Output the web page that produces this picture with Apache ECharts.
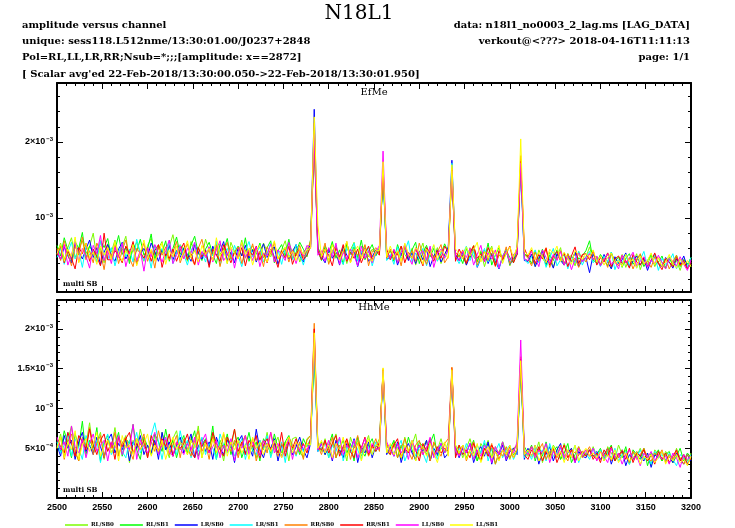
<!DOCTYPE html>
<html><head><meta charset="utf-8">
<script src="https://cdn.jsdelivr.net/npm/echarts@6/dist/echarts.min.js"></script>
<style>html,body{margin:0;padding:0;background:#fff}#c{width:735px;height:528px}</style>
</head><body><div id="c"></div><script>
// ---- data (amplitude in units of 1e-5) ----
const seriesNames = ['RL/SB0','RL/SB1','LR/SB0','LR/SB1','RR/SB0','RR/SB1','LL/SB0','LL/SB1'];
const seriesColors = ['#7cfc00','#00ff00','#0000ff','#00ffff','#ff8000','#ff0000','#ff00ff','#ffff00'];
const channels = []; for (let c = 2500; c <= 3200; c += 4) channels.push(c);

// EfMe panel
const efmeRL0 = [52,67,45,61,74, 48,59,70,53,63, 80,47,60,41,66, 55,71,50,62,76, 44,58,68,54,43, 64,73,51,60,69, 46,62,78,53,65,
 58,43,69,55,62, 48,72,57,45,66, 52,60,40,68,56, 50,71,47,59,63, 54,44,67,56,49, 62,46,58,70,48, 57,64,42,55,61,
 66,199,62,
 50,60,43,66,53,47,61,40,58,68,45,56,64,49,59,52,
 61,157,50,
 48,58,41,63,52,45,60,38,54,67,44,56,49,61,40,53,
 60,158,49,
 44,55,38,61,49,42,57,36,53,63,41,51,47,59,37,50,
 58,178,47,
 43,52,36,58,47,40,55,35,49,61,38,47,51,37,56,45,
 48,62,44,
 49,37,45,54,34,47,41,52,35,48,42,53,32,46,39,51,36,47,42,33,49,37,44,31,46,40,36];
const efmeRL1 = [64,50,74,58,44, 69,60,81,47,63, 54,42,70,61,73, 48,58,77,52,62, 40,67,56,72,51, 59,79,45,64,54, 70,43,60,75,52,
 61,47,64,76,54, 44,59,68,52,40, 66,57,73,46,55, 63,50,74,43,59, 53,67,48,61,70, 41,57,65,50,72, 46,55,68,59,49,
 72,200,57,
 44,63,54,69,47,58,39,66,52,62,48,71,45,56,65,50,
 59,160,49,
 57,43,65,50,62,46,58,68,40,54,64,49,60,44,53,66,
 55,160,46,
 52,40,60,47,64,43,55,46,67,38,51,61,44,57,48,41,
 62,170,53,
 49,40,56,45,59,37,51,44,58,47,39,53,42,55,46,50,
 57,70,44,
 41,52,45,37,55,42,49,35,47,53,39,46,51,36,44,52,38,42,50,34,46,40,51,36,45,39,48];
const efmeLR0 = [55,45,62,50,41, 66,56,46,59,71, 48,61,38,55,65, 51,43,59,68,46, 56,63,40,53,60, 49,67,56,43,59, 50,64,45,57,48,
 60,52,43,65,55, 46,58,38,63,51, 56,69,44,55,41, 61,50,64,47,58, 42,55,66,48,57, 62,39,53,60,46, 55,65,50,42,58,
 64,243,60,
 49,41,59,47,55,38,62,51,44,57,36,53,60,43,49,58,
 54,163,46,
 48,57,38,52,61,44,54,40,56,45,59,36,50,58,42,52,
 62,176,52,
 44,54,38,50,59,35,47,57,40,52,43,33,49,58,39,47,
 52,168,44,
 43,52,36,47,56,40,46,34,53,44,38,50,42,55,36,45,
 48,28,52,
 46,38,52,42,33,49,40,45,54,36,43,50,38,47,31,44,52,40,36,48,42,34,46,39,50,35,42];
const efmeLR1 = [48,60,39,55,68, 46,57,35,63,51, 59,42,70,53,45, 61,37,55,66,49, 59,42,72,54,44, 57,34,64,51,60, 45,71,40,55,64,
 52,38,57,67,46, 55,42,62,50,70, 38,53,60,45,64, 51,36,57,69,49, 54,62,42,53,67, 46,58,39,61,52, 45,65,54,38,56,
 62,215,55,
 46,58,41,54,64,48,39,60,52,67,43,56,50,62,37,54,
 59,160,44,
 52,39,62,47,56,70,42,54,46,60,37,53,64,43,56,48,
 57,172,49,
 40,52,63,44,56,36,48,60,42,54,46,34,50,59,40,52,
 56,165,46,
 40,49,58,41,53,35,47,60,37,45,52,33,49,41,56,38,
 49,56,41,
 48,36,50,42,55,32,45,41,52,37,49,34,45,56,36,43,51,31,47,39,43,53,33,46,40,35,48];
const efmeRR0 = [60,44,70,53,37, 63,51,75,45,57, 41,67,55,32,61, 49,65,40,57,71, 47,36,60,53,67, 43,57,34,64,51, 62,45,55,69,41,
 54,66,48,38,60, 72,50,58,44,64, 36,56,68,46,54, 62,40,58,50,66, 44,56,36,62,52, 68,46,54,60,42, 58,50,64,48,56,
 70,225,58,
 51,67,39,57,63,45,55,69,41,59,51,47,65,37,55,61,
 53,170,47,
 59,45,55,37,63,49,57,43,67,51,39,59,47,55,65,41,
 49,166,55,
 48,58,42,52,64,38,50,56,44,60,36,52,46,62,40,48,
 60,182,52,
 47,37,55,43,51,61,35,49,45,57,39,53,43,47,35,51,
 42,53,46,
 49,39,47,35,53,43,37,51,41,47,33,45,53,39,43,35,49,41,37,47,33,43,51,37,41,33,39];
const efmeRR1 = [51,63,41,57,47, 33,61,53,67,43, 59,49,37,80,45, 45,57,51,41,63, 53,69,39,55,47, 61,43,57,65,35, 53,47,59,43,57,
 67,45,53,39,61, 49,57,35,59,51, 43,65,53,41,55, 47,61,37,57,51, 63,45,53,41,59, 49,35,57,47,63, 39,53,59,45,51,
 62,205,57,
 45,59,51,37,61,49,65,43,55,47,59,41,53,63,45,57,
 51,165,59,
 45,57,51,63,41,55,47,59,49,37,61,53,43,57,47,63,
 55,163,43,
 59,49,40,55,63,47,53,43,61,51,37,57,45,53,63,41,
 52,175,60,
 49,58,40,52,46,60,38,50,56,44,54,36,50,62,40,52,
 53,45,57,
 38,48,42,54,36,46,50,40,44,34,52,42,38,48,36,44,54,40,32,46,42,36,48,38,44,33,42];
const efmeLL0 = [57,46,65,38,52, 69,42,60,50,34, 64,53,77,44,57, 40,62,48,67,36, 55,63,44,57,30, 60,49,65,53,42, 57,71,40,51,63,
 46,60,54,68,38, 56,48,62,42,58, 70,44,52,60,34, 56,66,48,58,44, 62,36,54,50,66, 42,58,52,44,68, 54,40,58,50,64,
 60,210,51,
 57,43,61,49,67,39,55,45,59,51,37,63,47,57,41,55,
 64,188,55,
 47,59,41,55,65,49,39,61,51,57,45,63,35,53,59,47,
 59,162,49,
 44,56,48,60,38,52,64,42,54,46,58,34,50,56,44,52,
 54,172,46,
 44,56,48,36,58,48,40,52,44,56,38,50,32,46,54,42,
 48,53,45,
 50,37,45,53,39,43,33,51,41,47,55,37,43,49,35,45,39,51,41,33,47,43,37,49,39,31,45];
const efmeLL1 = [53,65,43,59,49, 75,41,57,67,47, 55,39,63,51,61, 45,69,53,43,57, 49,65,37,55,71, 47,59,43,53,67, 39,57,49,63,45,
 56,70,48,58,42, 64,52,60,44,74, 50,58,40,62,54, 46,68,52,60,38, 56,64,50,42,58, 70,46,54,62,48, 56,44,60,52,58,
 60,233,91,
 49,59,43,65,53,45,57,69,41,55,63,47,59,51,43,57,
 57,174,49,
 63,49,57,43,67,53,47,61,55,39,59,51,65,45,57,53,
 47,170,59,
 54,46,62,50,58,68,42,56,48,60,52,64,40,54,62,48,
 62,204,56,
 51,61,45,55,49,41,59,53,63,43,55,47,39,57,51,45,
 53,48,58,
 42,50,38,48,54,40,44,36,52,42,46,34,50,40,44,54,38,48,36,42,52,40,34,46,38,44,36];

// HhMe panel
const hhmeRL0 = [52,68,40,60,78, 46,34,64,54,82, 44,58,70,36,62, 50,76,42,56,66, 32,60,48,74,54, 40,64,58,44,70, 52,38,62,72,48,
 56,42,64,52,78, 38,58,46,68,44, 54,34,62,50,74, 42,56,66,46,52, 38,60,48,70,40, 54,64,44,58,34, 62,64,46,38,62,
 66,164,58,
 46,62,38,56,68,44,52,34,64,50,58,40,54,66,42,52,
 62,143,46,
 42,58,50,36,64,46,54,68,40,52,60,34,56,48,62,44,
 58,141,46,
 54,38,50,62,44,34,56,48,60,38,52,42,58,46,36,50,
 54,150,44,
 40,52,44,58,32,48,42,54,46,36,56,44,50,34,52,42,
 48,40,52,
 40,48,34,52,44,36,54,42,48,30,46,40,50,36,44,28,48,42,34,46,40,32,50,36,42,34,44];
const hhmeRL1 = [62,46,72,56,38, 68,52,84,42,60, 50,76,34,58,66, 44,54,70,40,62, 56,80,48,36,64, 52,42,68,58,46, 74,50,60,38,56,
 66,44,58,72,40, 54,62,48,78,36, 60,50,68,42,56, 64,38,52,70,46, 58,34,62,54,44, 68,50,40,58,66, 48,56,42,62,52,
 62,170,52,
 58,42,54,68,38,50,60,44,56,34,64,48,40,54,62,46,
 54,146,52,
 50,60,38,54,44,64,48,34,58,52,42,56,68,40,50,46,
 48,142,54,
 44,54,38,48,60,34,46,56,40,50,30,44,58,38,48,42,
 48,149,52,
 44,54,34,50,40,58,38,46,52,36,44,56,32,42,50,40,
 42,48,40,
 42,50,36,46,54,34,44,38,52,30,48,42,36,50,28,44,40,48,34,42,46,32,40,50,34,44,38];
const hhmeLR0 = [54,40,66,50,60, 36,58,70,46,54, 42,64,52,38,60, 68,44,56,48,62, 34,58,50,66,42, 54,44,60,36,70, 48,58,40,54,64,
 44,56,68,38,52, 62,46,58,36,64, 50,42,60,54,32, 58,66,44,52,40, 74,48,38,56,50, 62,34,54,46,60, 42,52,64,48,38,
 56,185,46,
 56,42,52,34,60,48,38,56,46,62,32,52,44,58,38,54,
 48,146,42,
 52,40,58,32,48,56,44,36,54,46,60,34,50,42,56,38,
 44,146,52,
 38,50,44,56,32,46,52,40,58,30,48,42,54,34,46,50,
 42,158,36,
 50,40,54,30,46,42,52,34,48,56,36,44,50,32,46,40,
 38,48,40,
 46,36,42,50,30,44,38,48,28,42,36,46,40,34,44,26,42,38,46,34,40,32,44,36,30,42,34];
const hhmeLR1 = [58,44,54,70,40, 62,50,36,66,54, 48,60,32,56,68, 42,52,64,46,38, 60,54,70,44,56, 40,66,82,58,36, 62,48,54,42,72,
 50,60,38,54,46, 64,42,56,50,36, 68,54,44,58,40, 52,62,36,56,48, 42,60,50,66,38, 54,44,58,32,62, 50,40,56,46,54,
 54,180,46,
 50,58,38,54,46,62,34,52,44,60,48,36,56,50,42,58,
 52,145,44,
 54,42,50,60,34,46,56,40,52,44,32,58,48,36,54,44,
 50,145,40,
 50,42,56,46,36,54,44,60,34,50,46,56,38,48,54,36,
 46,155,38,
 46,36,52,42,48,34,56,40,44,50,36,46,42,54,32,44,
 44,36,50,
 40,48,36,44,38,50,34,42,46,30,44,38,48,36,40,30,46,38,42,34,44,36,28,42,38,32,42];
const hhmeRR0 = [50,64,36,58,68, 46,34,62,52,76, 42,56,66,38,60, 50,70,40,56,64, 48,36,62,54,68, 38,58,46,72,52, 60,42,54,66,38,
 62,50,40,60,72, 46,56,36,64,52, 42,68,54,46,60, 38,56,66,48,62, 34,52,60,44,70, 50,40,56,46,64, 54,42,58,36,60,
 66,207,54,
 42,58,48,64,38,54,46,60,36,52,66,44,56,40,50,62,
 46,150,56,
 44,56,38,50,62,46,36,54,60,42,52,34,58,48,40,56,
 62,152,50,
 42,54,34,48,58,42,36,50,44,56,30,46,40,52,38,48,
 54,165,46,
 42,52,40,48,56,36,46,50,38,54,42,34,48,44,52,38,
 44,52,40,
 36,46,40,50,34,44,38,48,42,32,46,36,42,50,38,34,44,40,48,32,42,36,46,38,30,42,36];
const hhmeRR1 = [62,52,44,70,56, 40,66,58,48,74, 54,42,60,68,46, 58,36,64,52,62, 70,44,56,48,60, 38,66,54,46,62, 52,68,40,58,50,
 56,68,46,38,62, 52,60,44,70,56, 48,40,64,54,74, 46,58,42,60,52, 66,38,54,62,48, 56,44,70,40,58, 50,62,46,56,44,
 62,200,52,
 48,60,44,56,66,40,52,62,46,38,58,50,64,42,54,46,
 58,148,48,
 42,54,62,38,50,44,58,48,34,56,46,62,40,52,44,50,
 46,150,38,
 54,42,48,38,56,44,34,50,40,54,46,36,48,42,52,38,
 48,162,42,
 36,48,42,52,34,46,40,50,32,44,54,38,48,34,42,46,
 40,48,36,
 44,32,48,40,52,34,42,46,36,50,32,44,40,48,34,42,30,46,36,44,32,40,48,34,42,30,38];
const hhmeLL0 = [64,48,58,40,78, 52,44,62,38,56, 68,46,54,60,34, 58,50,66,42,54, 48,80,36,60,52, 44,58,70,42,54, 64,46,40,58,50,
 42,56,48,64,36, 58,68,44,52,60, 38,54,46,62,34, 56,50,66,42,58, 48,40,60,52,70, 44,56,38,50,62, 36,58,46,54,48,
 58,190,48,
 56,46,60,36,52,64,42,54,48,60,38,50,62,44,56,48,
 50,147,58,
 48,40,56,44,52,36,60,46,54,42,50,64,38,48,56,44,
 52,147,46,
 40,52,44,56,36,48,40,54,46,32,52,42,58,36,48,44,
 58,186,48,
 42,52,38,48,44,56,32,46,40,52,38,48,42,32,50,40,
 48,40,50,
 34,46,40,32,50,38,44,30,42,48,36,40,28,44,38,46,34,42,36,40,30,44,38,26,42,36,40];
const hhmeLL1 = [50,64,38,58,48, 72,36,54,62,46, 56,70,40,52,60, 44,58,34,66,50, 54,42,62,48,56, 68,40,54,46,60, 36,52,64,48,58,
 52,42,60,50,66, 38,56,48,62,44, 54,70,40,58,48, 60,44,54,36,64, 50,58,42,56,46, 60,52,38,54,64, 44,58,50,42,56,
 54,195,50,
 60,44,54,38,56,48,64,40,52,44,58,34,50,62,42,54,
 52,151,44,
 56,42,50,38,54,46,60,34,48,52,40,56,44,32,50,58,
 40,149,54,
 44,54,36,48,40,56,32,44,52,38,46,34,48,42,54,38,
 50,160,42,
 48,40,54,34,44,50,36,52,40,46,32,48,38,54,34,44,
 50,40,44,
 38,46,34,42,36,48,32,40,44,34,38,46,30,40,36,42,32,38,46,30,40,34,42,32,36,28,40];

const efmeSeries = [efmeRL0, efmeRL1, efmeLR0, efmeLR1, efmeRR0, efmeRR1, efmeLL0, efmeLL1];
const hhmeSeries = [hhmeRL0, hhmeRL1, hhmeLR0, hhmeLR1, hhmeRR0, hhmeRR1, hhmeLL0, hhmeLL1];

// axis ticks / labels (units of 1e-5)
const efmeLabelValues = [100, 200];
const efmeLabelTexts = {100: '{b|10}{s|−3}', 200: '{b|2×10}{s|−3}'};
const efmeMinorTicks = [20,40,60,80,120,140,160,180,220,240,260];
const hhmeLabelValues = [50, 100, 150, 200];
const hhmeLabelTexts = {50: '{b|5×10}{s|−4}', 100: '{b|10}{s|−3}', 150: '{b|1.5×10}{s|−3}', 200: '{b|2×10}{s|−3}'};
const hhmeMinorTicks = [0,10,20,30,40,60,70,80,90,110,120,130,140,160,170,180,190,210,220,230];

// ---- chart ----
const chart = echarts.init(document.getElementById('c'), null, {renderer: 'canvas'});
const BLK = '#000';
const grids = [
  {left: 57, top: 83, width: 634, height: 209},
  {left: 57, top: 300, width: 634, height: 198}
];
const yRange = [[2.6, 277.6], [-12.5, 236.25]];

function xAxis(g, pos, showLabel) {
  return {type: 'value', gridIndex: g, position: pos, min: 2500, max: 3200, interval: 50,
    axisLine: {show: true, onZero: false, lineStyle: {color: BLK, width: 2}},
    axisTick: {show: true, inside: true, length: 6, lineStyle: {color: BLK, width: 1}},
    minorTick: {show: true, splitNumber: 5, length: 3, lineStyle: {color: BLK, width: 1}},
    axisLabel: {show: showLabel, margin: 5, fontSize: 9, fontWeight: 'bold', fontFamily: 'Liberation Sans', color: BLK,
      formatter: v => String(v)},
    splitLine: {show: false}, minorSplitLine: {show: false}};
}
const rich = {
  b: {fontSize: 9, fontWeight: 'bold', fontFamily: 'Liberation Sans', color: BLK, lineHeight: 12},
  s: {fontSize: 6, fontWeight: 'bold', fontFamily: 'Liberation Sans', color: BLK, verticalAlign: 'top', lineHeight: 8, padding: [0, 0, 0, 1]}
};
function yMajor(g, pos, labelVals, labelTexts, showLabel) {
  return {type: 'value', gridIndex: g, position: pos, min: yRange[g][0], max: yRange[g][1],
    axisLine: {show: true, onZero: false, lineStyle: {color: BLK, width: 2}},
    axisTick: {show: true, inside: true, length: 6, customValues: labelVals, lineStyle: {color: BLK, width: 1}},
    axisLabel: {show: showLabel, margin: 4, customValues: labelVals, formatter: v => labelTexts[v] || '', rich: rich},
    splitLine: {show: false}};
}
function yMinor(g, pos, tickVals) {
  return {type: 'value', gridIndex: g, position: pos, min: yRange[g][0], max: yRange[g][1],
    axisLine: {show: false},
    axisTick: {show: true, inside: true, length: 3, customValues: tickVals, lineStyle: {color: BLK, width: 1}},
    axisLabel: {show: false}, splitLine: {show: false}};
}

const series = [];
function addPanel(list, g) {
  list.forEach((arr, k) => {
    series.push({type: 'line', name: seriesNames[k], xAxisIndex: g * 2, yAxisIndex: g * 4,
      data: arr.map((v, i) => [channels[i], v]), showSymbol: false, symbol: 'none',
      lineStyle: {width: 1, color: seriesColors[k]}, itemStyle: {color: seriesColors[k]},
      silent: true, animation: false, clip: true, z: 2 + k});
  });
}
addPanel(efmeSeries, 0);
addPanel(hhmeSeries, 1);

const hdrFont = 'bold 10px "DejaVu Serif"';
const txt = (x, y, text, font, align) => ({type: 'text', x: x, y: y, silent: true,
  style: {text: text, font: font, fill: BLK, align: align || 'left', verticalAlign: 'middle'}});

chart.setOption({
  animation: false,
  backgroundColor: '#fff',
  grid: grids,
  xAxis: [xAxis(0, 'bottom', false), xAxis(0, 'top', false), xAxis(1, 'bottom', true), xAxis(1, 'top', false)],
  yAxis: [
    yMajor(0, 'left', efmeLabelValues, efmeLabelTexts, true), yMajor(0, 'right', efmeLabelValues, efmeLabelTexts, false),
    yMinor(0, 'left', efmeMinorTicks), yMinor(0, 'right', efmeMinorTicks),
    yMajor(1, 'left', hhmeLabelValues, hhmeLabelTexts, true), yMajor(1, 'right', hhmeLabelValues, hhmeLabelTexts, false),
    yMinor(1, 'left', hhmeMinorTicks), yMinor(1, 'right', hhmeMinorTicks)
  ],
  legend: {data: seriesNames, left: 60, top: 517, icon: 'rect', itemWidth: 23, itemHeight: 1.5, itemGap: 6,
    selectedMode: false, textStyle: {fontSize: 5.5, fontWeight: 'bold', fontFamily: 'DejaVu Serif', color: BLK, padding: [0, 0, 0, -2]}},
  graphic: [
    txt(359, 14, 'N18L1', '20px "DejaVu Serif"', 'center'),
    txt(22, 25, 'amplitude versus channel', hdrFont),
    txt(22, 41.5, 'unique: sess118.L512nme/13:30:01.00/J0237+2848', hdrFont),
    txt(22, 57.5, 'Pol=RL,LL,LR,RR;Nsub=*;;;[amplitude: x==2872]', hdrFont),
    txt(22, 74, "[ Scalar avg'ed 22-Feb-2018/13:30:00.050->22-Feb-2018/13:30:01.950]", hdrFont),
    txt(690, 25, 'data: n18l1_no0003_2_lag.ms [LAG_DATA]', hdrFont, 'right'),
    txt(690, 41.5, 'verkout@<???> 2018-04-16T11:11:13', hdrFont, 'right'),
    txt(690, 57.5, 'page: 1/1', hdrFont, 'right'),
    txt(374, 92, 'EfMe', '10px "DejaVu Serif"', 'center'),
    txt(374, 307, 'HhMe', '10px "DejaVu Serif"', 'center'),
    txt(63, 284, 'multi SB', 'bold 7px "DejaVu Serif"'),
    txt(63, 490, 'multi SB', 'bold 7px "DejaVu Serif"')
  ],
  series: series
});
</script></body></html>
